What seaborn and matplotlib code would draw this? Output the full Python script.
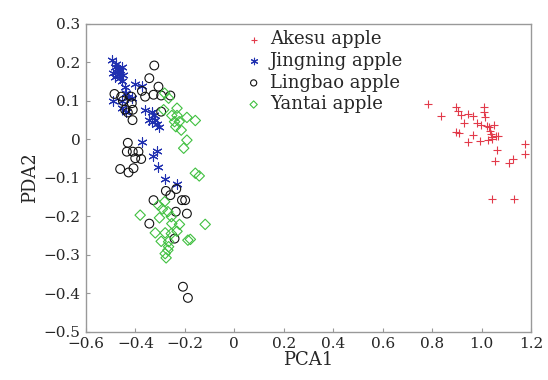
import numpy as np
import pandas as pd
import seaborn as sns
import matplotlib.pyplot as plt

# values
akesu_x = [0.784, 0.836, 0.895, 0.906, 0.916, 0.947, 0.966, 1.009, 1.014, 0.930, 0.980, 0.997,
           1.020, 1.030, 1.051, 1.037, 1.044, 1.058, 1.068, 0.895, 0.909, 0.967, 0.944, 0.993,
           1.028, 1.041, 1.064, 1.053, 1.109, 1.128, 1.174, 1.174, 1.041, 1.132, 1.011, 1.035]
akesu_y = [0.091, 0.062, 0.083, 0.074, 0.064, 0.066, 0.060, 0.083, 0.057, 0.043, 0.042, 0.037,
           0.035, 0.031, 0.037, 0.013, 0.007, 0.010, 0.009, 0.018, 0.016, 0.011, -0.006, -0.004,
           -0.002, 0.001, -0.028, -0.055, -0.062, -0.051, -0.011, -0.038, -0.154, -0.155, 0.070, 0.022]

jingning_x = [-0.493, -0.482, -0.472, -0.462, -0.455, -0.489, -0.476, -0.466, -0.449, -0.482,
              -0.462, -0.455, -0.442, -0.401, -0.372, -0.439, -0.431, -0.489, -0.455, -0.415,
              -0.455, -0.439, -0.361, -0.334, -0.347, -0.334, -0.320, -0.314, -0.303, -0.327,
              -0.374, -0.314, -0.330, -0.310, -0.282, -0.232, -0.478, -0.468]
jingning_y = [0.205, 0.189, 0.185, 0.181, 0.187, 0.172, 0.175, 0.170, 0.168, 0.163,
              0.159, 0.152, 0.137, 0.143, 0.140, 0.120, 0.111, 0.100, 0.100, 0.107,
              0.081, 0.072, 0.077, 0.070, 0.050, 0.046, 0.050, 0.039, 0.033, 0.063,
              -0.008, -0.030, -0.042, -0.071, -0.103, -0.116, 0.195, 0.178]

lingbao_x = [-0.324, -0.344, -0.307, -0.374, -0.485, -0.458, -0.417, -0.361, -0.327, -0.296,
             -0.259, -0.451, -0.415, -0.442, -0.411, -0.431, -0.296, -0.412, -0.431, -0.435,
             -0.411, -0.388, -0.401, -0.377, -0.462, -0.428, -0.408, -0.277, -0.259, -0.235,
             -0.327, -0.212, -0.199, -0.237, -0.192, -0.344, -0.242, -0.208, -0.188]
lingbao_y = [0.192, 0.159, 0.137, 0.126, 0.118, 0.111, 0.111, 0.111, 0.116, 0.114,
             0.114, 0.100, 0.094, 0.077, 0.077, 0.070, 0.072, 0.050, -0.009, -0.032,
             -0.032, -0.032, -0.049, -0.051, -0.077, -0.086, -0.075, -0.134, -0.145, -0.129,
             -0.158, -0.158, -0.158, -0.188, -0.193, -0.219, -0.258, -0.383, -0.412]

yantai_x = [-0.282, -0.266, -0.232, -0.286, -0.253, -0.232, -0.192, -0.158, -0.242, -0.223,
            -0.237, -0.215, -0.192, -0.205, -0.158, -0.142, -0.282, -0.307, -0.291, -0.269,
            -0.381, -0.303, -0.255, -0.253, -0.222, -0.118, -0.232, -0.320, -0.280, -0.255,
            -0.296, -0.266, -0.188, -0.178, -0.269, -0.280, -0.276, -0.266]
yantai_y = [0.120, 0.107, 0.081, 0.077, 0.062, 0.062, 0.057, 0.049, 0.046, 0.046,
            0.033, 0.024, -0.002, -0.023, -0.088, -0.095, -0.162, -0.171, -0.181, -0.188,
            -0.197, -0.204, -0.201, -0.219, -0.221, -0.221, -0.239, -0.243, -0.243, -0.245,
            -0.265, -0.266, -0.262, -0.260, -0.288, -0.297, -0.308, -0.279]

groups = ['Akesu apple', 'Jingning apple', 'Lingbao apple', 'Yantai apple']
xs = [akesu_x, jingning_x, lingbao_x, yantai_x]
ys = [akesu_y, jingning_y, lingbao_y, yantai_y]
colors = ['#e23a4a', '#2030b0', '#111111', '#40c040']
markers = ['+', (6, 2, 0), 'o', 'D']
sizes = [40, 45, 40, 28]

df = pd.concat([pd.DataFrame({'PCA1': x, 'PDA2': y, 'group': g}) for g, x, y in zip(groups, xs, ys)],
               ignore_index=True)

sns.set_style('ticks')
plt.rcParams['font.family'] = ['DejaVu Serif']

fig = plt.figure(figsize=(5.48, 3.8), dpi=100)
ax = fig.add_axes([0.157, 0.127, 0.812, 0.81])

for g, c, m, s in zip(groups, colors, markers, sizes):
    sub = df[df.group == g]
    sns.scatterplot(data=sub, x='PCA1', y='PDA2', marker=m, s=s, ax=ax, label=g, linewidth=0.8)
    pc = ax.collections[-1]
    if m in ('o', 'D'):
        pc.set_facecolor('none')
        pc.set_edgecolor(c)
    else:
        pc.set_facecolor(c)
        pc.set_edgecolor(c)

ax.set_xlim(-0.6, 1.2)
ax.set_ylim(-0.5, 0.3)
ax.set_xticks(np.arange(-0.6, 1.21, 0.2))
ax.set_xticklabels(['\u22120.6', '\u22120.4', '\u22120.2', '0', '0.2', '0.4', '0.6', '0.8', '1.0', '1.2'])
ax.set_yticks(np.arange(-0.5, 0.31, 0.1))
ax.set_yticklabels(['\u22120.5', '\u22120.4', '\u22120.3', '\u22120.2', '\u22120.1', '0', '0.1', '0.2', '0.3'])
ax.tick_params(direction='in', length=3, color='#999999', labelsize=11, pad=4)
for sp in ax.spines.values():
    sp.set_visible(True)
    sp.set_color('#999999')
    sp.set_linewidth(1.0)
ax.set_xlabel('PCA1', fontsize=13, labelpad=0)
ax.set_ylabel('PDA2', fontsize=13, labelpad=3)

handles, labels = ax.get_legend_handles_labels()
for h, c, m in zip(handles, colors, markers):
    h.set_facecolor('none' if m in ('o', 'D') else c)
    h.set_edgecolor(c)
ax.legend(handles, labels, loc='upper left', bbox_to_anchor=(0.328, 1.02), frameon=False,
          fontsize=13, handlelength=1.0, handletextpad=0.4, labelspacing=0.2,
          markerscale=0.7, borderaxespad=0.3)

fig.savefig('out.png', dpi=100)
